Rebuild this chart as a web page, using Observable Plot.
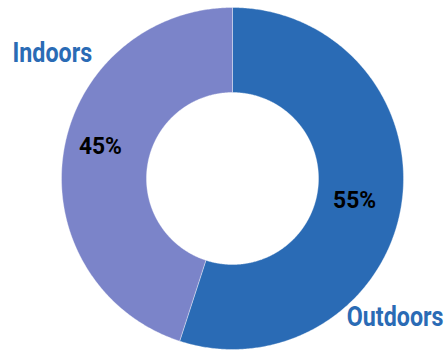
<!DOCTYPE html>
<html>
<head>
<meta charset="utf-8">
<script src="https://cdn.jsdelivr.net/npm/d3@7"></script>
<script src="https://cdn.jsdelivr.net/npm/@observablehq/plot@0.6"></script>
<style>
  html, body { margin: 0; padding: 0; background: #fff; }
</style>
</head>
<body>
<div id="chart"></div>
<script>
const categories = ["Outdoors", "Indoors"];
const values = [55, 45];
const colors = ["#2a6bb5", "#7b84c9"];
const labelColor = "#2a6bb5";

const innerR = 0.503;
const pie = d3.pie().sort(null).startAngle(0).endAngle(2 * Math.PI);
const arcs = pie(values);

const rings = [];
arcs.forEach((a, i) => {
  const cat = categories[i];
  const n = Math.max(2, Math.ceil((a.endAngle - a.startAngle) / (Math.PI / 360)));
  const pts = [];
  for (let k = 0; k <= n; k++) {
    const t = a.startAngle + (a.endAngle - a.startAngle) * k / n;
    pts.push({cat, x: Math.sin(t), y: Math.cos(t)});
  }
  for (let k = n; k >= 0; k--) {
    const t = a.startAngle + (a.endAngle - a.startAngle) * k / n;
    pts.push({cat, x: innerR * Math.sin(t), y: innerR * Math.cos(t)});
  }
  pts.push({...pts[0]});
  rings.push(...pts);
});

const pctLabels = arcs.map((a, i) => {
  const m = (a.startAngle + a.endAngle) / 2 + 3 * Math.PI / 180;
  const r = 0.76;
  return {label: values[i] + "%", x: r * Math.sin(m), y: r * Math.cos(m)};
});

const font = "Roboto, 'Liberation Sans', sans-serif";

const chart = Plot.plot({
  width: 446,
  height: 351,
  marginLeft: 61,
  marginRight: 43,
  marginTop: 7,
  marginBottom: 2,
  x: {domain: [-1, 1], axis: null},
  y: {domain: [-1, 1], axis: null},
  color: {domain: categories, range: colors},
  style: {background: "#fff", overflow: "visible"},
  marks: [
    Plot.line(rings, {x: "x", y: "y", z: "cat", fill: "cat", stroke: "#ffffff", strokeWidth: 0.6, strokeOpacity: 0.6, curve: "linear"}),
    Plot.text(pctLabels, {x: "x", y: "y", text: "label", dx: -5, dy: -5, fontSize: 24, fontWeight: "bold", fill: "#000", fontFamily: font, className: "pct"}),
    Plot.text([categories[1]], {frameAnchor: "top-left", text: d => d, textAnchor: "start", dx: -49, dy: 35, fontSize: 28, fontWeight: "bold", fill: labelColor, fontFamily: font, className: "cat"}),
    Plot.text([categories[0]], {frameAnchor: "bottom-right", text: d => d, textAnchor: "end", dx: 40, dy: -24, fontSize: 28, fontWeight: "bold", fill: labelColor, fontFamily: font, className: "cat"})
  ]
});
document.getElementById("chart").appendChild(chart);
// condensed look: compress glyph widths
const squeeze = {pct: 0.95, cat: 0.83};
Object.entries(squeeze).forEach(([cls, f]) => {
  chart.querySelectorAll("g." + cls + " text, text." + cls).forEach(t => {
    const len = t.getComputedTextLength();
    if (len > 0) {
      t.setAttribute("textLength", (len * f).toFixed(1));
      t.setAttribute("lengthAdjust", "spacingAndGlyphs");
    }
  });
});
</script>
</body>
</html>
